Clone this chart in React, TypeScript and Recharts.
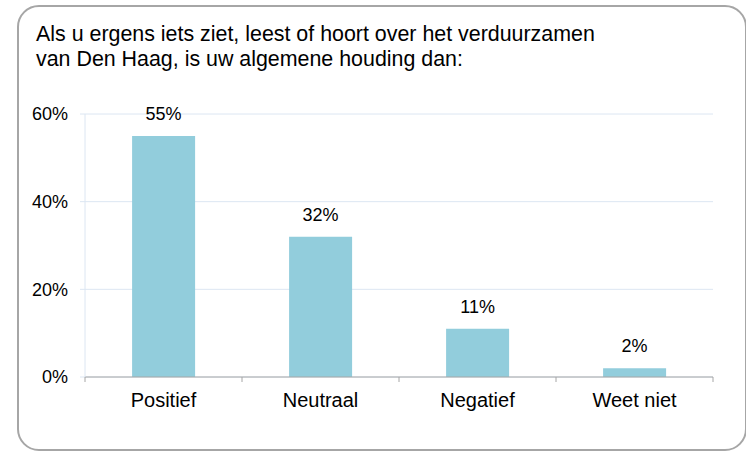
import React from 'react'
import { BarChart, Bar, XAxis, YAxis, CartesianGrid, LabelList } from 'recharts'

const categories = ['Positief', 'Neutraal', 'Negatief', 'Weet niet']
const values = [55, 32, 11, 2]
const yTicks = [0, 20, 40, 60]

const data = categories.map((name, i) => ({ name, value: values[i] }))

const font = '"Liberation Sans", Arial, sans-serif'

// category label plus the small tick marks on the edges of each band
function CategoryTick(props: any) {
  const { x, y, payload, index } = props
  const half = payload && payload.offset != null ? payload.offset : 78.5
  return (
    <g>
      <line x1={x - half} y1={y} x2={x - half} y2={y + 5} stroke="#a6a6a6" />
      {index === categories.length - 1 && (
        <line x1={x + half} y1={y} x2={x + half} y2={y + 5} stroke="#a6a6a6" />
      )}
      <text x={x} y={y + 30} textAnchor="middle" fill="#000" fontSize={20} fontFamily={font}>
        {payload.value}
      </text>
    </g>
  )
}

export default function App() {
  return (
    <div style={{ position: 'absolute', left: 0, top: 0, width: 746, height: 452, background: '#fff' }}>
      {/* frame */}
      <div
        style={{
          position: 'absolute',
          left: 17,
          top: 5,
          width: 726,
          height: 442,
          border: '2px solid #a6a6a6',
          borderRadius: 22,
        }}
      />
      <div
        style={{
          position: 'absolute',
          left: 36,
          top: 22,
          fontFamily: font,
          fontSize: 21.4,
          lineHeight: '25px',
          color: '#000',
        }}
      >
        Als u ergens iets ziet, leest of hoort over het verduurzamen
        <br />
        van Den Haag, is uw algemene houding dan:
      </div>
      <div style={{ position: 'absolute', left: 0, top: 0 }}>
        <BarChart
          width={746}
          height={452}
          data={data}
          margin={{ top: 114, right: 33, bottom: 35, left: 20 }}
          barCategoryGap="30%"
        >
          <CartesianGrid vertical={false} stroke="#dce6f2" />
          <XAxis
            dataKey="name"
            height={40}
            tickSize={0}
            tickMargin={0}
            tickLine={false}
            axisLine={{ stroke: '#a6a6a6' }}
            tick={<CategoryTick />}
            interval={0}
          />
          <YAxis
            width={65}
            domain={[0, 60]}
            ticks={yTicks}
            tickFormatter={(v: number) => v + '%'}
            axisLine={{ stroke: '#dce6f2' }}
            tickLine={{ stroke: '#dce6f2' }}
            tickSize={5}
            tickMargin={12}
            tick={{ fill: '#000', fontSize: 18, fontFamily: font }}
          />
          <Bar dataKey="value" fill="#92cddc" isAnimationActive={false}>
            <LabelList
              dataKey="value"
              position="top"
              offset={16}
              formatter={(v: any) => v + '%'}
              fill="#000"
              fontSize={18}
              fontFamily={font}
            />
          </Bar>
        </BarChart>
      </div>
    </div>
  )
}
